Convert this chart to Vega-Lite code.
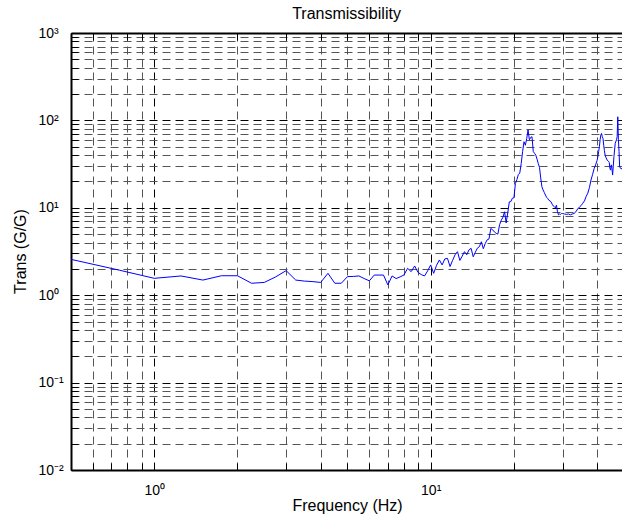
{
  "$schema": "https://vega.github.io/schema/vega-lite/v6.json",
  "autosize": {"type": "none"},
  "padding": {"left": 71, "top": 33, "right": 0, "bottom": 57},
  "width": 551,
  "height": 437,
  "background": "white",
  "config": {
    "view": {"stroke": null},
    "font": "Liberation Sans",
    "axis": {"labelFont": "Liberation Sans", "titleFont": "Liberation Sans", "labelColor": "black", "titleColor": "black", "domain": true, "domainColor": "#000000", "domainWidth": 2, "ticks": true, "tickColor": "#000000", "tickWidth": 1, "labelFontSize": 14, "titleFontSize": 16, "titleFontWeight": "normal", "labelOverlap": false, "labelFlush": false}
  },
  "title": {"text": "Transmissibility", "font": "Liberation Sans", "fontSize": 16, "fontWeight": "normal", "color": "black", "offset": 4},
  "data": {"values": [
    {"f": 0.5, "t": 2.57}, {"f": 0.75, "t": 1.93}, {"f": 1.0, "t": 1.56}, {"f": 1.25, "t": 1.66}, {"f": 1.5, "t": 1.49},
    {"f": 1.75, "t": 1.67}, {"f": 2.0, "t": 1.67}, {"f": 2.25, "t": 1.37}, {"f": 2.5, "t": 1.40}, {"f": 2.75, "t": 1.62},
    {"f": 3.0, "t": 1.91}, {"f": 3.25, "t": 1.49}, {"f": 3.5, "t": 1.45}, {"f": 3.75, "t": 1.43}, {"f": 4.0, "t": 1.40},
    {"f": 4.25, "t": 1.78}, {"f": 4.5, "t": 1.37}, {"f": 4.75, "t": 1.37}, {"f": 5.0, "t": 1.63}, {"f": 5.25, "t": 1.64},
    {"f": 5.5, "t": 1.66}, {"f": 5.75, "t": 1.55}, {"f": 6.0, "t": 1.46}, {"f": 6.25, "t": 1.70}, {"f": 6.5, "t": 1.70},
    {"f": 6.75, "t": 1.70}, {"f": 7.0, "t": 1.31}, {"f": 7.25, "t": 1.66}, {"f": 7.5, "t": 1.55}, {"f": 7.75, "t": 1.62},
    {"f": 8.0, "t": 1.70}, {"f": 8.25, "t": 2.03}, {"f": 8.5, "t": 1.86}, {"f": 8.75, "t": 2.16}, {"f": 9.0, "t": 1.82},
    {"f": 9.25, "t": 1.72}, {"f": 9.5, "t": 1.66}, {"f": 9.75, "t": 1.9}, {"f": 10.0, "t": 2.22}, {"f": 10.25, "t": 1.78},
    {"f": 10.5, "t": 2.2}, {"f": 10.75, "t": 2.53}, {"f": 11.0, "t": 2.22}, {"f": 11.25, "t": 2.6}, {"f": 11.5, "t": 2.64},
    {"f": 11.75, "t": 2.13}, {"f": 12.0, "t": 2.5}, {"f": 12.25, "t": 2.9}, {"f": 12.5, "t": 3.15}, {"f": 12.75, "t": 2.5},
    {"f": 13.0, "t": 2.8}, {"f": 13.25, "t": 3.15}, {"f": 13.5, "t": 2.9}, {"f": 13.75, "t": 3.3}, {"f": 14.0, "t": 3.44},
    {"f": 14.25, "t": 2.75}, {"f": 14.5, "t": 3.1}, {"f": 14.75, "t": 3.45}, {"f": 15.0, "t": 3.6}, {"f": 15.25, "t": 4.09},
    {"f": 15.5, "t": 3.4}, {"f": 15.75, "t": 3.9}, {"f": 16.0, "t": 4.3}, {"f": 16.25, "t": 4.4}, {"f": 16.5, "t": 5.8},
    {"f": 16.75, "t": 5.6}, {"f": 17.0, "t": 5.3}, {"f": 17.25, "t": 5.1}, {"f": 17.5, "t": 5.0}, {"f": 17.75, "t": 6.4},
    {"f": 18.0, "t": 7.2}, {"f": 18.25, "t": 7.8}, {"f": 18.5, "t": 9.0}, {"f": 18.75, "t": 6.7}, {"f": 19.0, "t": 8.8},
    {"f": 19.25, "t": 11.7}, {"f": 19.5, "t": 11.8}, {"f": 19.75, "t": 12.9}, {"f": 20.0, "t": 13.0}, {"f": 20.25, "t": 19},
    {"f": 20.5, "t": 21}, {"f": 20.75, "t": 24}, {"f": 21.0, "t": 25}, {"f": 21.25, "t": 32}, {"f": 21.5, "t": 44},
    {"f": 21.75, "t": 57}, {"f": 22.0, "t": 52}, {"f": 22.25, "t": 62}, {"f": 22.5, "t": 78}, {"f": 22.75, "t": 60},
    {"f": 23.0, "t": 64}, {"f": 23.25, "t": 65}, {"f": 23.5, "t": 44}, {"f": 23.75, "t": 42}, {"f": 24.0, "t": 40},
    {"f": 24.25, "t": 36}, {"f": 24.5, "t": 32}, {"f": 24.75, "t": 29}, {"f": 25.0, "t": 22}, {"f": 25.25, "t": 17.4},
    {"f": 25.5, "t": 16}, {"f": 25.75, "t": 15}, {"f": 26.0, "t": 14}, {"f": 26.25, "t": 13.2}, {"f": 26.5, "t": 12.8},
    {"f": 26.75, "t": 12.2}, {"f": 27.0, "t": 12}, {"f": 27.25, "t": 11.7}, {"f": 27.5, "t": 11}, {"f": 27.75, "t": 10.5},
    {"f": 28.0, "t": 10.3}, {"f": 28.25, "t": 10.0}, {"f": 28.5, "t": 10.7}, {"f": 28.75, "t": 9.0}, {"f": 29.0, "t": 8.3},
    {"f": 29.25, "t": 8.5}, {"f": 29.5, "t": 8.4}, {"f": 29.75, "t": 8.6}, {"f": 30.0, "t": 8.6}, {"f": 30.5, "t": 8.5},
    {"f": 31.0, "t": 8.4}, {"f": 31.5, "t": 8.5}, {"f": 32.0, "t": 8.3}, {"f": 32.5, "t": 8.5}, {"f": 33.0, "t": 8.6},
    {"f": 33.5, "t": 9.0}, {"f": 34.0, "t": 9.7}, {"f": 34.5, "t": 10.2}, {"f": 35.0, "t": 10.6}, {"f": 35.5, "t": 11.3},
    {"f": 36.0, "t": 12.0}, {"f": 36.5, "t": 13.5}, {"f": 37.0, "t": 14.7}, {"f": 37.5, "t": 17}, {"f": 38.0, "t": 20.8},
    {"f": 38.5, "t": 24}, {"f": 39.0, "t": 28}, {"f": 39.5, "t": 31}, {"f": 40.0, "t": 35}, {"f": 40.25, "t": 38.5},
    {"f": 40.5, "t": 44}, {"f": 40.75, "t": 50}, {"f": 41.0, "t": 60}, {"f": 41.25, "t": 68}, {"f": 41.5, "t": 71},
    {"f": 41.75, "t": 65}, {"f": 42.0, "t": 62}, {"f": 42.25, "t": 52}, {"f": 42.5, "t": 45}, {"f": 42.75, "t": 40},
    {"f": 43.0, "t": 38}, {"f": 43.5, "t": 35}, {"f": 44.0, "t": 34}, {"f": 44.25, "t": 33}, {"f": 44.5, "t": 28},
    {"f": 44.75, "t": 27}, {"f": 45.0, "t": 31}, {"f": 45.25, "t": 28}, {"f": 45.5, "t": 23.7}, {"f": 45.75, "t": 30},
    {"f": 46.0, "t": 38.5}, {"f": 46.5, "t": 54.7}, {"f": 47.0, "t": 60}, {"f": 47.25, "t": 65}, {"f": 47.5, "t": 110},
    {"f": 47.75, "t": 60}, {"f": 48.0, "t": 44}, {"f": 48.25, "t": 29.5}, {"f": 48.75, "t": 28}, {"f": 49.25, "t": 28}
  ]},
  "layer": [
    {
      "mark": {"type": "line", "color": "#0000ff", "strokeWidth": 1, "clip": true},
      "encoding": {
        "x": {"field": "f", "type": "quantitative",
          "scale": {"type": "log", "domain": [0.5, 49.2], "nice": false},
          "axis": {"orient": "bottom", "title": "Frequency (Hz)", "titleBaseline": "middle", "titleY": 35, "titleX": 276,
            "values": [0.5, 0.6, 0.7, 0.8, 0.9, 1, 2, 3, 4, 5, 6, 7, 8, 9, 10, 20, 30, 40],
            "labelExpr": "datum.value == 1 ? '10⁰' : datum.value == 10 ? '10¹' : ''",
            "tickSize": -7, "labelPadding": 20,
            "grid": true, "gridDash": [8, 5], "gridWidth": 1,
            "gridColor": {"condition": {"test": "datum.value == 1 || datum.value == 10", "value": "#000000"}, "value": "#555555"}}},
        "y": {"field": "t", "type": "quantitative",
          "scale": {"type": "log", "domain": [0.01, 1000], "nice": false},
          "axis": {"orient": "left", "title": "Trans (G/G)", "titleBaseline": "middle", "titleX": -51, "titleY": 218,
            "values": [0.01, 0.02, 0.03, 0.04, 0.05, 0.06, 0.07, 0.08, 0.09, 0.1, 0.2, 0.3, 0.4, 0.5, 0.6, 0.7, 0.8, 0.9, 1, 2, 3, 4, 5, 6, 7, 8, 9, 10, 20, 30, 40, 50, 60, 70, 80, 90, 100, 200, 300, 400, 500, 600, 700, 800, 900, 1000],
            "labelExpr": "datum.value == 1000 ? '10³' : datum.value == 100 ? '10²' : datum.value == 10 ? '10¹' : datum.value == 1 ? '10⁰' : datum.value == 0.1 ? '10⁻¹' : datum.value == 0.01 ? '10⁻²' : ''",
            "tickSize": -7, "labelPadding": 40, "labelAlign": "left",
            "grid": true, "gridDash": [8, 5], "gridWidth": 1,
            "gridColor": {"condition": {"test": "datum.value == 1 || datum.value == 10 || datum.value == 100 || datum.value == 1000 || datum.value == 0.1 || datum.value == 0.01", "value": "#000000"}, "value": "#555555"}}}
      }
    },
    {
      "mark": {"type": "rule", "opacity": 0},
      "encoding": {
        "x": {"field": "f", "type": "quantitative",
          "scale": {"type": "log", "domain": [0.5, 49.2], "nice": false},
          "axis": {"orient": "top", "title": null, "labels": false, "grid": false, "tickSize": -7,
            "values": [0.5, 0.6, 0.7, 0.8, 0.9, 1, 2, 3, 4, 5, 6, 7, 8, 9, 10, 20, 30, 40]}}
      }
    }
  ],
  "resolve": {"axis": {"x": "independent"}}
}
